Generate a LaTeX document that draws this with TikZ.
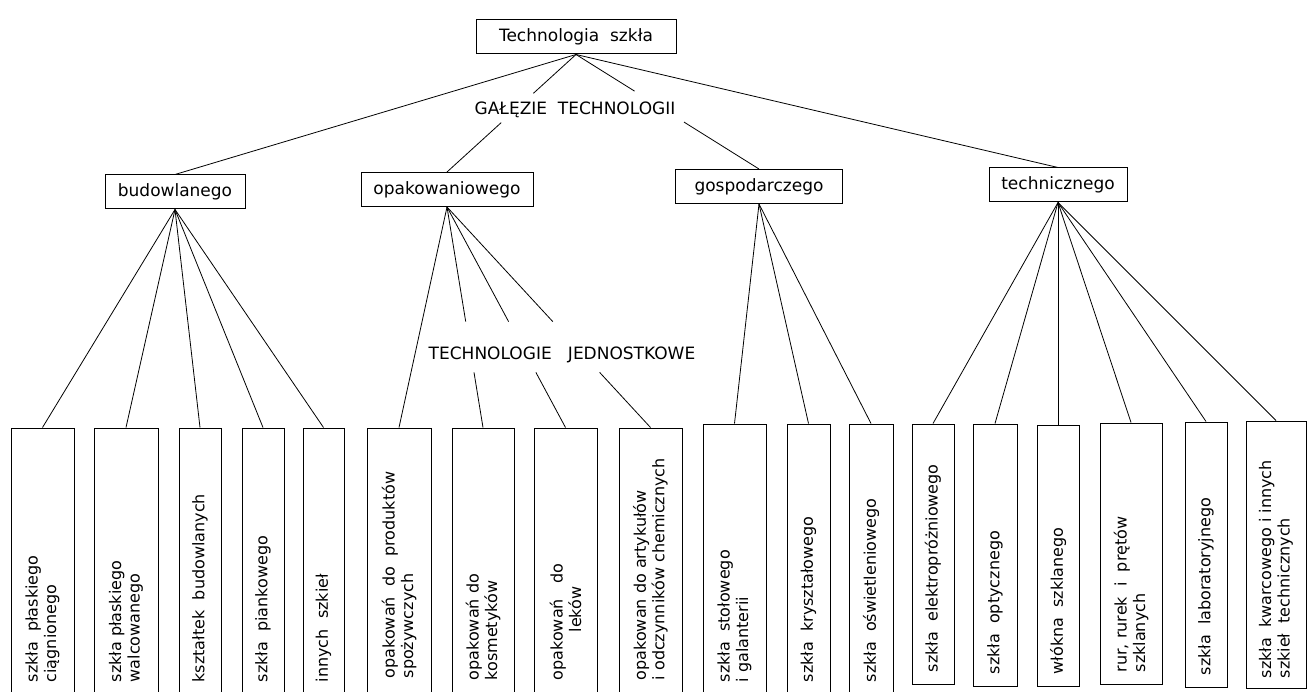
\documentclass[tikz,border=0pt]{standalone}
\usepackage{fontspec}
\setmainfont{DejaVu Sans}
\usetikzlibrary{calc}
\tikzset{
  box/.style={draw, line width=1pt, inner sep=0pt, font=\fontsize{17}{20}\selectfont, minimum height=34pt},
  leaf/.style={draw, line width=1pt, inner sep=0pt, rotate=90},
  leaftext/.style={inner sep=0pt, rotate=90, anchor=west, align=left, font=\fontsize{16}{18.5}\selectfont},
  conn/.style={line width=0.8pt},
  lbl/.style={inner sep=0pt, font=\fontsize{17}{20}\selectfont}
}
\newcommand\leafbox[7]{%
  \node[leaf, minimum width={#5-#4}, minimum height={#3-#2}] (#1) at ({(#2+#3)/2},{(#4+#5)/2}) {};%
  \node[leaftext] (#1t) at ([yshift=#6pt]#1.west) {#7};}
\begin{document}
\begin{tikzpicture}[x=1pt,y=-1pt]
\clip (0,0) rectangle (1308,692);
\fill[white] (0,0) rectangle (1308,692);

% top and branch nodes
\node[box, minimum width=200pt] (top) at (576,37) {Technologia\ \ szkła};
\node[box, minimum width=140pt] (bud) at (175,192) {budowlanego};
\node[box, minimum width=172pt] (opa) at (447,189.5) {opakowaniowego};
\node[box, minimum width=167pt] (gos) at (759,186.5) {gospodarczego};
\node[box, minimum width=138pt] (tec) at (1058,185) {technicznego};

\node[lbl] (gal) at (575,110) {GAŁĘZIE\ \ TECHNOLOGII};
\node[lbl] (tj) at (562,355) {TECHNOLOGIE\ \ \ JEDNOSTKOWE};

% leaf boxes
\leafbox{l1}{11}{74}{428}{700}{18}{szkła\ \ płaskiego\\ciągnionego}
\leafbox{l2}{94}{158}{428}{700}{18}{szkła płaskiego\\walcowanego}
\leafbox{l3}{179}{221}{428}{700}{18}{kształtek\ \ budowlanych}
\leafbox{l4}{242}{284}{428}{700}{18}{szkła\ \ piankowego}
\leafbox{l5}{303}{344}{428}{700}{18}{innych\ \ szkieł}
\leafbox{l6}{367}{431}{428}{700}{22}{opakowań\ \ do\ \ produktów\\spożywczych}
\leafbox{l7}{452}{514}{428}{700}{20}{opakowań do\\kosmetyków}
\leafbox{l8}{534}{597}{428}{700}{20}{opakowań\ \ \ do\\\hspace*{48pt}leków}
\leafbox{l9}{619}{682}{428}{700}{20}{opakowan do artykułów\\i odczynników chemicznych}
\leafbox{l10}{703}{766}{424}{700}{18}{szkła\ \ stołowego\\i galanterii}
\leafbox{l11}{787}{830}{424}{700}{18}{szkła\ \ kryształowego}
\leafbox{l12}{849}{893}{424}{700}{18}{szkła\ \ oświetleniowego}
\leafbox{l13}{912}{954}{424}{684}{12}{szkła\ \ elektropróżniowego}
\leafbox{l14}{973}{1017}{424}{686}{12}{szkła\ \ optycznego}
\leafbox{l15}{1037}{1079}{425}{686}{12}{włókna\ \ szklanego}
\leafbox{l16}{1100}{1162}{423}{684}{12}{rur, rurek\ \ i\ \ prętów\\szklanych}
\leafbox{l17}{1185}{1227}{422}{687}{12}{szkła\ \ laboratoryjnego}
\leafbox{l18}{1246}{1306}{421}{688}{10}{szkła\ \ kwarcowego i innych\\szkieł\ \ technicznych}

% top-level connectors
\draw[conn] (top.south) -- (bud.north);
\draw[conn] (top.south) -- ($(top.south)!0.33!(opa.north)$);
\draw[conn] ($(top.south)!0.58!(opa.north)$) -- (opa.north);
\draw[conn] (top.south) -- ($(top.south)!0.32!(gos.north)$);
\draw[conn] ($(top.south)!0.59!(gos.north)$) -- (gos.north);
\draw[conn] (top.south) -- (tec.north);

% budowlanego
\foreach \n in {l1,l2,l3,l4,l5} \draw[conn] (bud.south) -- (\n.east);
% opakowaniowego
\draw[conn] (opa.south) -- (l6.east);
\foreach \n in {l7,l8,l9} {
  \draw[conn] (opa.south) -- ($(opa.south)!0.52!(\n.east)$);
  \draw[conn] ($(opa.south)!0.75!(\n.east)$) -- (\n.east);
}
% gospodarczego
\foreach \n in {l10,l11,l12} \draw[conn] (gos.south) -- (\n.east);
% technicznego
\foreach \n in {l13,l14,l15,l16,l17,l18} \draw[conn] (tec.south) -- (\n.east);
\end{tikzpicture}
\end{document}
